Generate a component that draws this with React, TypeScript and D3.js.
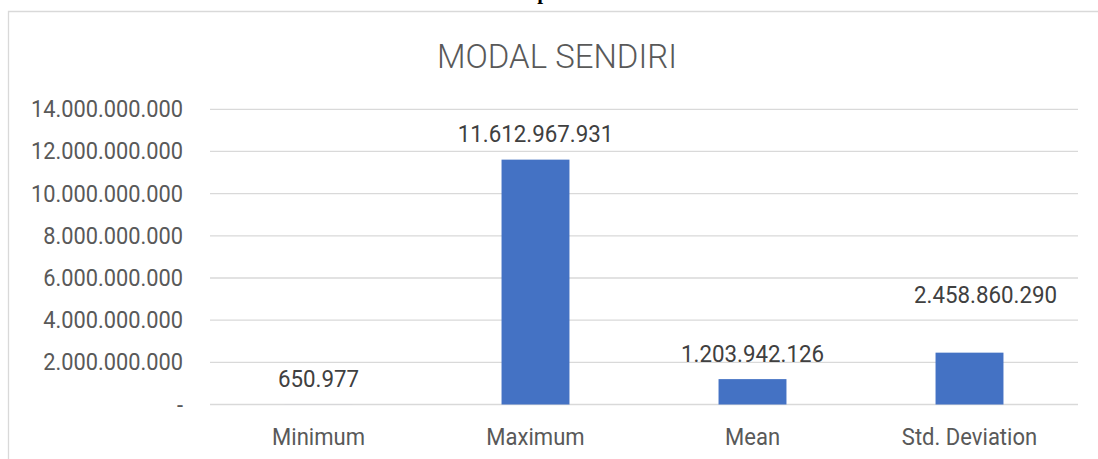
import React, { useEffect, useRef } from "react";
import * as d3 from "d3";

// chart values
const categories = ["Minimum", "Maximum", "Mean", "Std. Deviation"];
const values = [650977, 11612967931, 1203942126, 2458860290];
const valueLabels = ["650.977", "11.612.967.931", "1.203.942.126", "2.458.860.290"];
const yTicks = [0, 2e9, 4e9, 6e9, 8e9, 10e9, 12e9, 14e9];
const yTickLabels = [
  "-",
  "2.000.000.000",
  "4.000.000.000",
  "6.000.000.000",
  "8.000.000.000",
  "10.000.000.000",
  "12.000.000.000",
  "14.000.000.000",
];
const title = "MODAL SENDIRI";

const App = () => {
  const svgRef = useRef<SVGSVGElement | null>(null);
  const width = 1098;
  const height = 459;
  const margin = { top: 109.3, right: 20, bottom: 54.5, left: 210 };

  useEffect(() => {
    const svg = d3.select(svgRef.current);
    svg.selectAll("*").remove();

    const font = "Roboto, 'Noto Sans', sans-serif";

    const x = d3
      .scaleBand()
      .domain(categories)
      .range([margin.left, width - margin.right])
      .paddingInner(0.687)
      .paddingOuter(0.3435);

    const y = d3
      .scaleLinear()
      .domain([0, 14e9])
      .range([height - margin.bottom, margin.top]);

    // cut-off caption of the page above the chart
    svg
      .append("text")
      .attr("x", 543)
      .attr("y", -1)
      .attr("text-anchor", "middle")
      .attr("font-family", "'Liberation Serif', serif")
      .attr("font-weight", "bold")
      .attr("font-size", 21)
      .attr("fill", "#000")
      .text("p");

    // chart area border (top + left only visible)
    svg
      .append("path")
      .attr("d", `M8.5,${height} V11.5 H${width}`)
      .attr("fill", "none")
      .attr("stroke", "#d9d9d9")
      .attr("stroke-width", 1.3);

    // title
    svg
      .append("text")
      .attr("transform", `translate(557,68) scale(0.97,1)`)
      .attr("text-anchor", "middle")
      .attr("font-family", font)
      .attr("font-weight", 300)
      .attr("font-size", 34)
      .attr("fill", "#595959")
      .text(title);

    // gridlines
    svg
      .append("g")
      .selectAll("line")
      .data(yTicks)
      .enter()
      .append("line")
      .attr("x1", margin.left)
      .attr("x2", width - margin.right)
      .attr("y1", (d) => y(d))
      .attr("y2", (d) => y(d))
      .attr("stroke", "#d9d9d9")
      .attr("stroke-width", 1.3);

    // y tick labels
    svg
      .append("g")
      .selectAll("text")
      .data(yTicks)
      .enter()
      .append("text")
      .attr("transform", (d) => `translate(183,${y(d) + 8}) scale(0.89,1)`)
      .attr("text-anchor", "end")
      .attr("font-family", font)
      .attr("font-size", 24.5)
      .attr("fill", "#595959")
      .text((d, i) => yTickLabels[i]);

    // bars
    svg
      .append("g")
      .selectAll("rect")
      .data(values)
      .enter()
      .append("rect")
      .attr("x", (d, i) => x(categories[i]) as number)
      .attr("y", (d) => y(d))
      .attr("width", x.bandwidth())
      .attr("height", (d) => y(0) - y(d))
      .attr("fill", "#4472c4");

    // value labels (the std. deviation one was dragged up in the original)
    svg
      .append("g")
      .selectAll("text")
      .data(values)
      .enter()
      .append("text")
      .attr("transform", (d, i) => {
        const cx = (x(categories[i]) as number) + x.bandwidth() / 2 + (i === 3 ? 16 : 0);
        const cy = i === 3 ? 303 : y(d) - 17.5;
        return `translate(${cx},${cy}) scale(0.93,1)`;
      })
      .attr("text-anchor", "middle")
      .attr("font-family", font)
      .attr("font-size", 24)
      .attr("fill", "#404040")
      .text((d, i) => valueLabels[i]);

    // category labels
    svg
      .append("g")
      .selectAll("text")
      .data(categories)
      .enter()
      .append("text")
      .attr(
        "transform",
        (d) => `translate(${(x(d) as number) + x.bandwidth() / 2},445) scale(0.9,1)`
      )
      .attr("text-anchor", "middle")
      .attr("font-family", font)
      .attr("font-size", 24.5)
      .attr("fill", "#595959")
      .text((d) => d);
  }, []);

  return (
    <svg
      ref={svgRef}
      width={width}
      height={height}
      style={{ position: "absolute", left: 0, top: 0, background: "#fff" }}
    ></svg>
  );
};

export default App;
